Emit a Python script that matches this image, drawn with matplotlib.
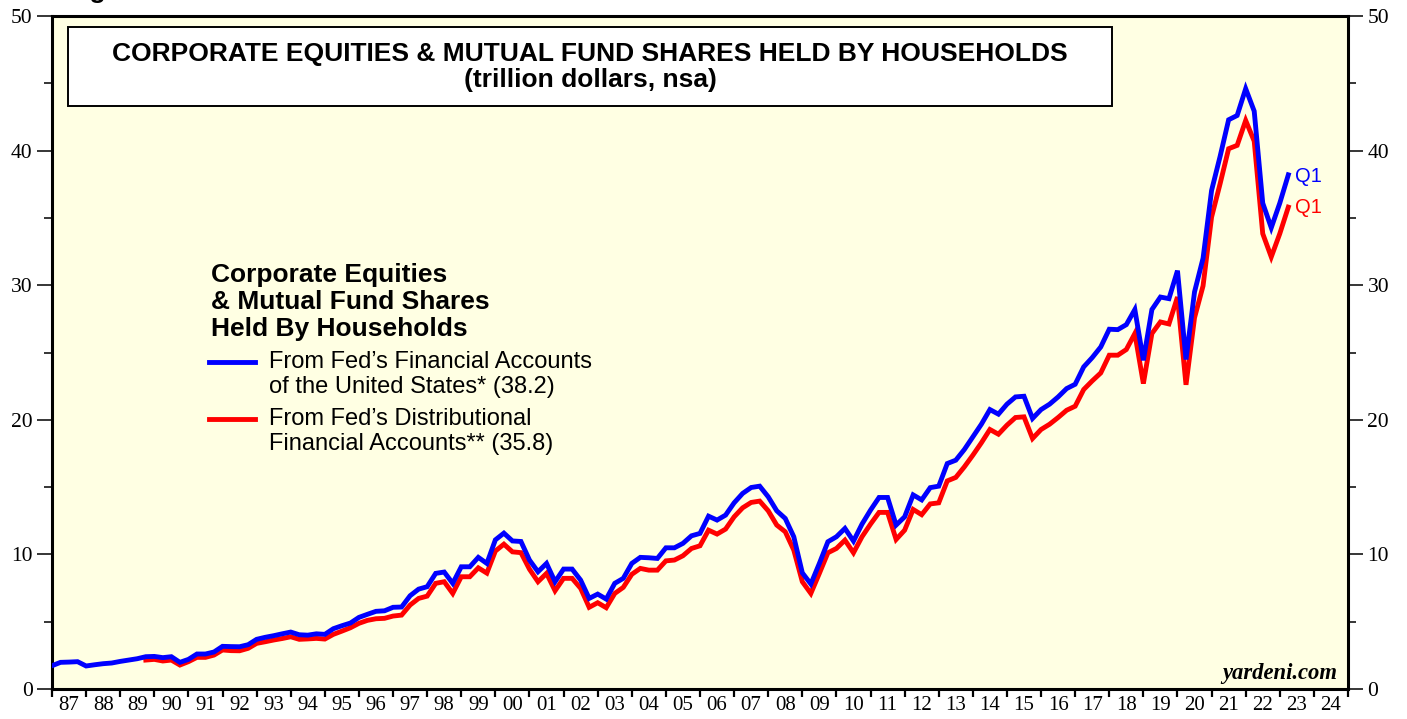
import matplotlib
matplotlib.use("Agg")
import matplotlib.pyplot as plt
import pandas as pd
import numpy as np
from matplotlib.patches import Rectangle
from matplotlib.lines import Line2D

# ---------------- data (trillion dollars, quarterly, plotted at quarter end) ----------------
blue_start, blue_end = "1986Q4", "2023Q1"
blue_values = [
    1.73, 1.98, 2.00, 2.03, 1.71, 1.80, 1.88, 1.93, 2.05, 2.15,
    2.25, 2.40, 2.42, 2.33, 2.40, 1.98, 2.20, 2.60, 2.60, 2.75,
    3.17, 3.15, 3.14, 3.29, 3.69, 3.84, 3.96, 4.10, 4.23, 4.03,
    4.00, 4.10, 4.06, 4.48, 4.70, 4.90, 5.32, 5.55, 5.77, 5.81,
    6.07, 6.09, 6.93, 7.42, 7.60, 8.59, 8.69, 7.85, 9.08, 9.08,
    9.78, 9.33, 11.08, 11.58, 11.00, 10.96, 9.58, 8.71, 9.33, 7.97,
    8.91, 8.91, 8.09, 6.73, 7.05, 6.68, 7.85, 8.22, 9.33, 9.78,
    9.75, 9.70, 10.49, 10.49, 10.82, 11.38, 11.56, 12.84, 12.55, 12.92,
    13.83, 14.53, 14.97, 15.07, 14.28, 13.24, 12.67, 11.31, 8.63, 7.80,
    9.33, 10.94, 11.31, 11.93, 10.99, 12.25, 13.29, 14.23, 14.23, 12.18,
    12.79, 14.42, 14.05, 14.96, 15.07, 16.75, 17.00, 17.79, 18.73, 19.67,
    20.76, 20.42, 21.16, 21.70, 21.75, 20.10, 20.76, 21.16, 21.70, 22.32,
    22.64, 23.93, 24.62, 25.41, 26.73, 26.70, 27.07, 28.19, 24.42, 28.19,
    29.12, 29.00, 31.08, 24.48, 29.50, 32.00, 37.04, 39.57, 42.29, 42.61,
    44.60, 42.93, 36.10, 34.27, 36.10, 38.20,
]
red_start, red_end = "1989Q3", "2023Q1"
red_values = [
    2.15, 2.20, 2.08, 2.15, 1.78, 2.03, 2.35, 2.35, 2.52, 2.90,
    2.85, 2.84, 3.02, 3.39, 3.51, 3.64, 3.75, 3.88, 3.69, 3.72,
    3.76, 3.71, 4.06, 4.30, 4.55, 4.88, 5.10, 5.22, 5.25, 5.42,
    5.49, 6.24, 6.73, 6.90, 7.85, 7.97, 7.10, 8.34, 8.34, 9.00,
    8.61, 10.25, 10.76, 10.19, 10.13, 8.90, 7.97, 8.59, 7.30, 8.22,
    8.22, 7.48, 6.07, 6.41, 6.04, 7.10, 7.55, 8.52, 8.96, 8.83,
    8.83, 9.52, 9.58, 9.90, 10.44, 10.64, 11.80, 11.51, 11.88, 12.79,
    13.46, 13.86, 13.96, 13.24, 12.18, 11.68, 10.32, 7.97, 7.10, 8.59,
    10.12, 10.44, 11.06, 10.12, 11.31, 12.25, 13.12, 13.12, 11.11, 11.80,
    13.34, 12.95, 13.75, 13.83, 15.46, 15.72, 16.50, 17.37, 18.29, 19.28,
    18.93, 19.60, 20.17, 20.22, 18.61, 19.28, 19.67, 20.17, 20.71, 21.01,
    22.25, 22.89, 23.48, 24.80, 24.80, 25.22, 26.41, 22.69, 26.41, 27.27,
    27.12, 29.12, 22.60, 27.58, 29.95, 35.06, 37.54, 40.14, 40.39, 42.24,
    40.70, 33.83, 32.10, 33.83, 35.80,
]
year_labels = [f"{y % 100:02d}" for y in range(1987, 2025)]
title_text = "CORPORATE EQUITIES & MUTUAL FUND SHARES HELD BY HOUSEHOLDS"
subtitle_text = "(trillion dollars, nsa)"
legend_title = ["Corporate Equities", "& Mutual Fund Shares", "Held By Households"]
blue_label = ["From Fed\u2019s Financial Accounts", "of the United States* (38.2)"]
red_label = ["From Fed\u2019s Distributional", "Financial Accounts** (35.8)"]


def quarter_end_years(start, end):
    p = pd.period_range(start, end, freq="Q")
    return np.array(p.year + p.quarter / 4.0, dtype=float)


tb = quarter_end_years(blue_start, blue_end)
tr = quarter_end_years(red_start, red_end)

BLUE = "#0000FF"
RED = "#FF0000"
BG = "#FFFFE3"
SANS = ["Liberation Sans", "DejaVu Sans"]
SERIF = ["Liberation Serif", "DejaVu Serif"]
LW = 3.5

fig = plt.figure(figsize=(14.07, 7.19), dpi=100)
fig.patch.set_facecolor("white")
W, H = 1407, 719
ax_l, ax_r, ax_t, ax_b = 52, 1348, 16, 689
ax = fig.add_axes([ax_l / W, 1 - ax_b / H, (ax_r - ax_l) / W, (ax_b - ax_t) / H])
ax.set_facecolor(BG)

ax.plot(tb, blue_values, color=BLUE, lw=LW, solid_joinstyle="miter", zorder=4)
ax.plot(tr, red_values, color=RED, lw=LW, solid_joinstyle="miter", zorder=3)

ax.set_xlim(1987, 2025)
ax.set_ylim(0, 50)

for s in ax.spines.values():
    s.set_linewidth(2.2)

# y axis
ax.set_yticks(np.arange(0, 51, 10))
ax.set_yticks(np.arange(5, 50, 10), minor=True)
ax.tick_params(axis="y", which="major", direction="out", length=10.5, width=1.1,
               left=True, right=True, labelleft=True, labelright=True, pad=3.5,
               labelsize=15.5)
ax.tick_params(axis="y", which="minor", direction="out", length=6, width=1.1,
               left=True, right=True)
# x axis
ax.set_xticks(np.arange(1987, 2026, 1))
ax.set_xticklabels([])
ax.set_xticks(np.arange(1987.5, 2025, 1), minor=True)
ax.set_xticklabels(year_labels, minor=True)
ax.tick_params(axis="x", which="major", direction="out", length=6, width=1.6)
ax.tick_params(axis="x", which="minor", length=0, pad=5, labelsize=15)
for lab in ax.get_xticklabels(minor=True):
    lab.set_fontfamily(SERIF)
for t in ax.yaxis.get_major_ticks():
    t.label1.set_fontfamily(SERIF)
    t.label2.set_fontfamily(SERIF)


def ax_x(px):
    return (px - ax_l) / (ax_r - ax_l)


def ax_y(py):
    return (ax_b - py) / (ax_b - ax_t)


# title box
x0, x1, y0, y1 = ax_x(68), ax_x(1112), ax_y(106), ax_y(27)
ax.add_patch(Rectangle((x0, y0), x1 - x0, y1 - y0, transform=ax.transAxes,
                       facecolor="white", edgecolor="black", lw=1.4, zorder=5))
ax.text((x0 + x1) / 2, ax_y(54), title_text, transform=ax.transAxes, ha="center",
        va="center", fontsize=19, fontweight="bold", family=SANS, zorder=6)
ax.text((x0 + x1) / 2, ax_y(80), subtitle_text, transform=ax.transAxes, ha="center",
        va="center", fontsize=19, fontweight="bold", family=SANS, zorder=6)

# legend block
for i, line in enumerate(legend_title):
    ax.text(ax_x(211), ax_y(275 + 27 * i), line, transform=ax.transAxes, ha="left",
            va="center", fontsize=19, fontweight="bold", family=SANS)
for color, lines, ypx in [(BLUE, blue_label, 362), (RED, red_label, 419)]:
    ax.add_line(Line2D([ax_x(209), ax_x(255)], [ax_y(ypx), ax_y(ypx)], color=color,
                       lw=LW, transform=ax.transAxes))
    for j, line in enumerate(lines):
        ax.text(ax_x(269), ax_y(ypx + 24.5 * j), line, transform=ax.transAxes,
                ha="left", va="center", fontsize=17, family=SANS)

# end labels
ax.text(tb[-1] + 0.2, blue_values[-1] - 0.15, "Q1", color=BLUE, ha="left", va="center",
        fontsize=14.5, family=SANS)
ax.text(tr[-1] + 0.2, red_values[-1], "Q1", color=RED, ha="left", va="center",
        fontsize=14.5, family=SANS)

# source
ax.text(ax_x(1337), ax_y(674), "yardeni.com", transform=ax.transAxes, ha="right",
        va="center", fontsize=16.3, fontweight="bold", style="italic", family=SERIF)

# cut-off figure caption at top (as in the reference)
fig.text(66 / W, 1 + 2 / H, "Figure 1.", ha="left", va="baseline", fontsize=19,
         fontweight="bold", family=SANS)

fig.savefig("out.png", dpi=100, facecolor="white")
